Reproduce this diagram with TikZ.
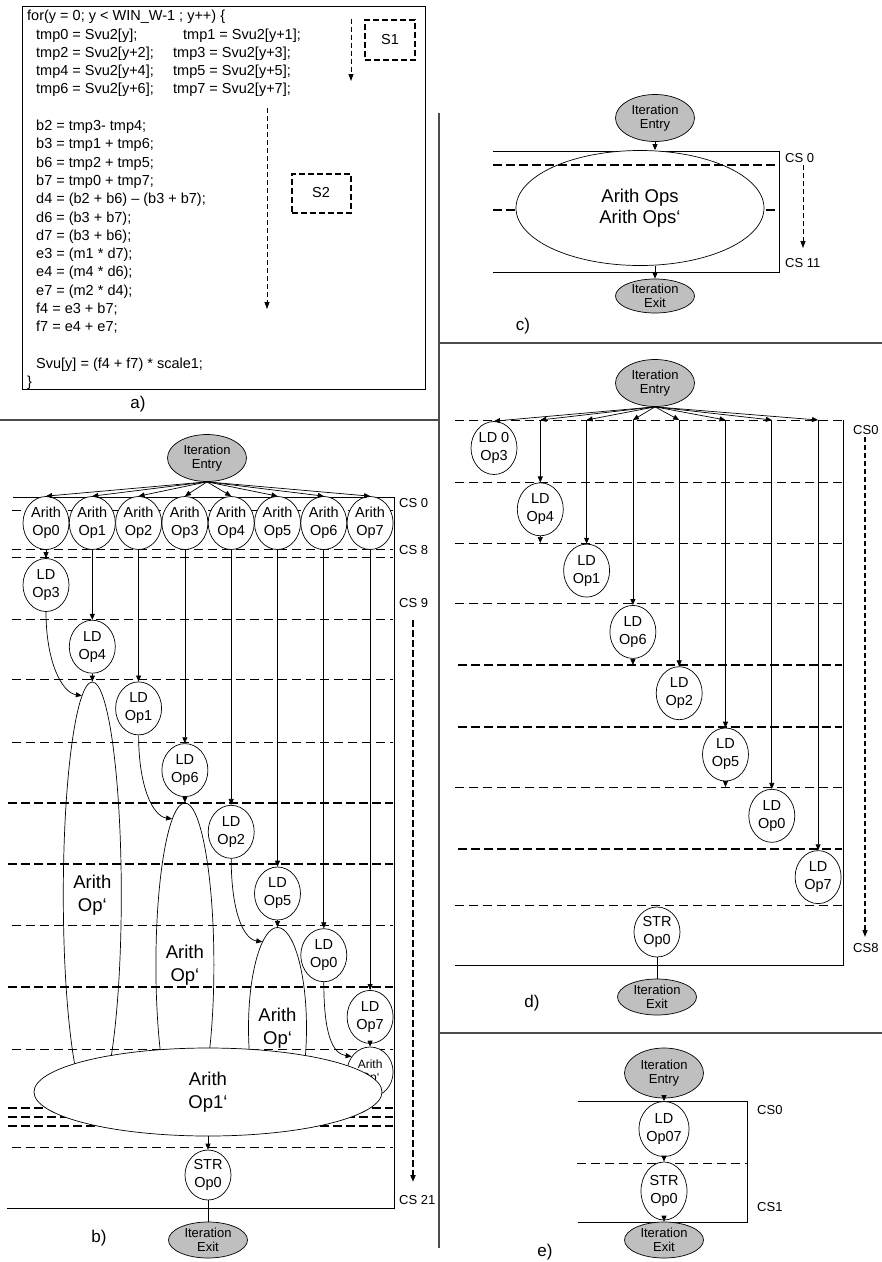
\documentclass[tikz,border=0pt]{standalone}
\usepackage{fontspec}
\setmainfont{Liberation Sans}
\usetikzlibrary{arrows.meta,positioning,shapes.geometric}

\begin{document}
\begin{tikzpicture}[x=1pt,y=-1pt,
	sepline/.style={draw=black!70,line width=1.3pt},
	frame/.style={line width=0.8pt},
	csthin/.style={line width=0.8pt,dash pattern=on 9pt off 5pt},
	csthick/.style={line width=2pt,dash pattern=on 9pt off 4pt},
	timeline/.style={line width=0.8pt,dash pattern=on 5pt off 3pt,-{Triangle[length=7pt,width=5pt]}},
	arr/.style={line width=0.7pt,-{Triangle[length=6pt,width=5pt]}},
	opnode/.style={ellipse,draw,fill=white,line width=0.7pt,inner sep=0pt,minimum width=46pt,minimum height=53pt,align=center,font=\fontsize{14.5}{18}\selectfont},
	itnode/.style={ellipse,draw,fill=gray!50,line width=0.7pt,inner sep=0pt,minimum width=79pt,minimum height=47pt,align=center,font=\fontsize{13}{14}\selectfont},
	exnode/.style={itnode,minimum height=36pt},
	bigop/.style={ellipse,draw,fill=white,line width=0.7pt,inner sep=0pt,align=center,font=\fontsize{18.5}{23}\selectfont},
	tallop/.style={ellipse,draw,line width=0.7pt,inner sep=0pt,minimum width=58pt,align=center,font=\fontsize{18.5}{23}\selectfont},
	sbox/.style={draw,line width=2pt,dash pattern=on 6pt off 3pt,font=\fontsize{14.5}{16}\selectfont},
	cs/.style={anchor=west,inner sep=0pt,font=\fontsize{13}{14}\selectfont},
	tag/.style={font=\fontsize{17}{18}\selectfont}
	]
	\useasboundingbox (0,0) rectangle (882,1262);
	% panel separators
	\draw[sepline] (0,420) -- (438,420);
	\draw[sepline] (439,113) -- (439,1248);
	\draw[sepline] (439,343) -- (882,343);
	\draw[sepline] (439,1033) -- (882,1033);

	% a) source code
	\draw[frame] (22,6) rectangle (425,389);
	\node[anchor=north west,inner sep=0pt,align=left,font=\fontsize{14.5}{18.3}\selectfont] (code) at (27,10) {%
		for(y = 0; y < WIN\_W-1 ; y++) \{\\
		\hspace*{9pt}\makebox[147pt][l]{tmp0 = Svu2[y];}tmp1 = Svu2[y+1];\\
		\hspace*{9pt}\makebox[137pt][l]{tmp2 = Svu2[y+2];}tmp3 = Svu2[y+3];\\
		\hspace*{9pt}\makebox[137pt][l]{tmp4 = Svu2[y+4];}tmp5 = Svu2[y+5];\\
		\hspace*{9pt}\makebox[137pt][l]{tmp6 = Svu2[y+6];}tmp7 = Svu2[y+7];\\[18.3pt]
		\hspace*{9pt}b2 = tmp3- tmp4;\\
		\hspace*{9pt}b3 = tmp1 + tmp6;\\
		\hspace*{9pt}b6 = tmp2 + tmp5;\\
		\hspace*{9pt}b7 = tmp0 + tmp7;\\
		\hspace*{9pt}d4 = (b2 + b6) – (b3 + b7);\\
		\hspace*{9pt}d6 = (b3 + b7);\\
		\hspace*{9pt}d7 = (b3 + b6);\\
		\hspace*{9pt}e3 = (m1 * d7);\\
		\hspace*{9pt}e4 = (m4 * d6);\\
		\hspace*{9pt}e7 = (m2 * d4);\\
		\hspace*{9pt}f4 = e3 + b7;\\
		\hspace*{9pt}f7 = e4 + e7;\\[18.3pt]
		\hspace*{9pt}Svu[y] = (f4 + f7) * scale1;\\
		\}};
	\node[sbox,minimum width=50pt,minimum height=40pt] (s1) at (390,40) {S1};
	\node[sbox,minimum width=59pt,minimum height=39pt] (s2) at (321,193) {S2};
	\coordinate (a1s) at (351,19);
	\coordinate (a1e) at (351,81);
	\coordinate (a2s) at (267,108);
	\coordinate (a2e) at (267,309);
	\draw[timeline] (a1s) -- (a1e);
	\draw[timeline] (a2s) -- (a2e);
	\node[tag] (taga) at (138,404) {a)};

	% b) schedule
	\draw[frame] (13,497) -- (394,497) -- (394,1208) -- (7,1208);
	\foreach \y in {510,549,557,619,679,742,925,1049,1147}
		\draw[csthin] (12,\y) -- (393,\y);
	\foreach \y in {803,864,987,1108,1117,1126}
		\draw[csthick] (8,\y) -- (393,\y);
	\node[cs] (bcs0) at (399,503) {CS 0};
	\node[cs] (bcs8) at (399,550) {CS 8};
	\node[cs] (bcs9) at (399,603) {CS 9};
	\node[cs] (bcs21) at (399,1200) {CS 21};
	\coordinate (bts) at (413,620);
	\coordinate (bte) at (413,1182);
	\draw[timeline,line width=2pt,dash pattern=on 7pt off 3pt] (bts) -- (bte);
	\node[itnode] (bent) at (207,458) {Iteration\\Entry};
	\foreach \i in {0,...,7}
		\node[opnode] (ba\i) at ({46+46.3*\i},523) {Arith\\Op\i};
	\foreach \i/\k in {0/3,1/4,2/1,3/6,4/2,5/5,6/0,7/7}
		\node[opnode] (bl\i) at ({46+46.3*\i},{585+61.7*\i}) {LD\\Op\k};
	\node[tallop,minimum height=426pt] (bt1) at (92.3,895) {Arith\\Op‘};
	\node[tallop,minimum height=324pt] (bt2) at (184.9,965) {Arith\\Op‘};
	\node[tallop,minimum height=201pt] (bt3) at (277.5,1028) {Arith\\Op‘};
	\node[opnode,minimum height=50pt,font=\fontsize{12}{13}\selectfont] (bsa) at (370.1,1072) {Arith\\Op‘};
	\node[bigop,minimum width=348pt,minimum height=88pt] (bbig) at (208,1092) {Arith\\Op1‘};
	\node[opnode,minimum height=50pt] (bstr) at (208,1175) {STR\\Op0};
	\node[exnode] (bex) at (208,1240) {Iteration\\Exit};
	\foreach \i in {0,...,7} {
		\draw[arr] (bent.south) -- (ba\i.north);
		\draw[arr] (ba\i) -- (bl\i);
	}
	\foreach \i/\t/\a in {0/bt1/93,2/bt2/95,4/bt3/100,6/bsa/140}
		\draw[arr] (bl\i.south) .. controls +(0,50) and +(-20,-3) .. (\t.\a);
	\foreach \i/\t in {1/bt1,3/bt2,5/bt3,7/bsa}
		\draw[arr] (bl\i) -- (\t);
	\draw[arr] (bbig) -- (bstr);
	\draw[frame] (bstr) -- (bex);
	\node[tag] (tagb) at (99,1238) {b)};

	% c) merged arithmetic
	\draw[csthick] (493,210) -- (779,210);
	\draw[frame] (493,151) -- (779,151) -- (779,272) -- (493,272);
	\node[itnode] (cent) at (655,118) {Iteration\\Entry};
	\node[bigop,minimum width=248pt,minimum height=115pt,font=\fontsize{18.5}{21}\selectfont] (cops) at (640,208) {Arith Ops\\Arith Ops‘};
	\draw[csthick] (493,165) -- (779,165);
	\node[exnode,minimum height=34pt] (cex) at (655,296) {Iteration\\Exit};
	\draw[arr] (cent) -- (cent |- cops.north);
	\draw[arr] (cex |- cops.south) -- (cex);
	\node[cs] (ccs0) at (785,158) {CS 0};
	\node[cs] (ccs11) at (785,263) {CS 11};
	\coordinate (cts) at (803,165);
	\coordinate (cte) at (803,248);
	\draw[timeline] (cts) -- (cte);
	\node[tag] (tagc) at (523,326) {c)};

	% d) loads only
	\foreach \y in {420,482,543,603,787,905}
		\draw[csthin] (455,\y) -- (843,\y);
	\foreach \y in {665,727,849}
		\draw[csthick] (458,\y) -- (842,\y);
	\draw[frame] (843,420) -- (843,965) -- (455,965);
	\node[itnode] (dent) at (655,383) {Iteration\\Entry};
	\node[opnode] (dl0) at (494,448) {LD 0\\Op3};
	\foreach \i/\k in {1/4,2/1,3/6,4/2,5/5,6/0,7/7} {
		\node[opnode] (dl\i) at ({494+46.3*\i},{448+61.3*\i}) {LD\\Op\k};
		\coordinate (dt\i) at ({494+46.3*\i},420);
	}
	\node[opnode,minimum height=50pt] (dstr) at (657,932) {STR\\Op0};
	\node[exnode] (dex) at (657,997) {Iteration\\Exit};
	\draw[arr] (dent.south) -- (dl0.north);
	\foreach \i in {1,...,7} {
		\draw[arr] (dent.south) -- (dt\i);
		\draw[arr] (dt\i) -- (dl\i);
	}
	\foreach \i/\y in {1/543,3/665,5/787} {
		\coordinate (dx\i) at ({494+46.3*\i},\y);
		\draw[arr] (dl\i.south) -- (dx\i);
	}
	\draw[frame] (dstr) -- (dex);
	\node[cs] (dcs0) at (853,430) {CS0};
	\node[cs] (dcs8) at (853,948) {CS8};
	\coordinate (dts) at (865,437);
	\coordinate (dte) at (865,937);
	\draw[timeline,line width=1.2pt] (dts) -- (dte);
	\node[tag] (tagd) at (532,1003) {d)};

	% e) load and store
	\draw[csthin] (577,1163) -- (748,1163);
	\draw[frame] (578,1101) -- (747,1101) -- (747,1222) -- (578,1222);
	\node[itnode,minimum height=50pt] (eent) at (664,1073) {Iteration\\Entry};
	\node[opnode,minimum height=55pt] (eld) at (664,1129) {LD\\Op07};
	\node[opnode,minimum height=58pt] (estr) at (664,1191) {STR\\Op0};
	\node[exnode] (eex) at (664,1240) {Iteration\\Exit};
	\draw[arr] (eent) -- (eld);
	\draw[arr] (eld) -- (estr);
	\draw[arr] (estr) -- (eex);
	\node[cs] (ecs0) at (757,1110) {CS0};
	\node[cs] (ecs1) at (757,1207) {CS1};
	\node[tag] (tage) at (545,1252) {e)};
\end{tikzpicture}
\end{document}
